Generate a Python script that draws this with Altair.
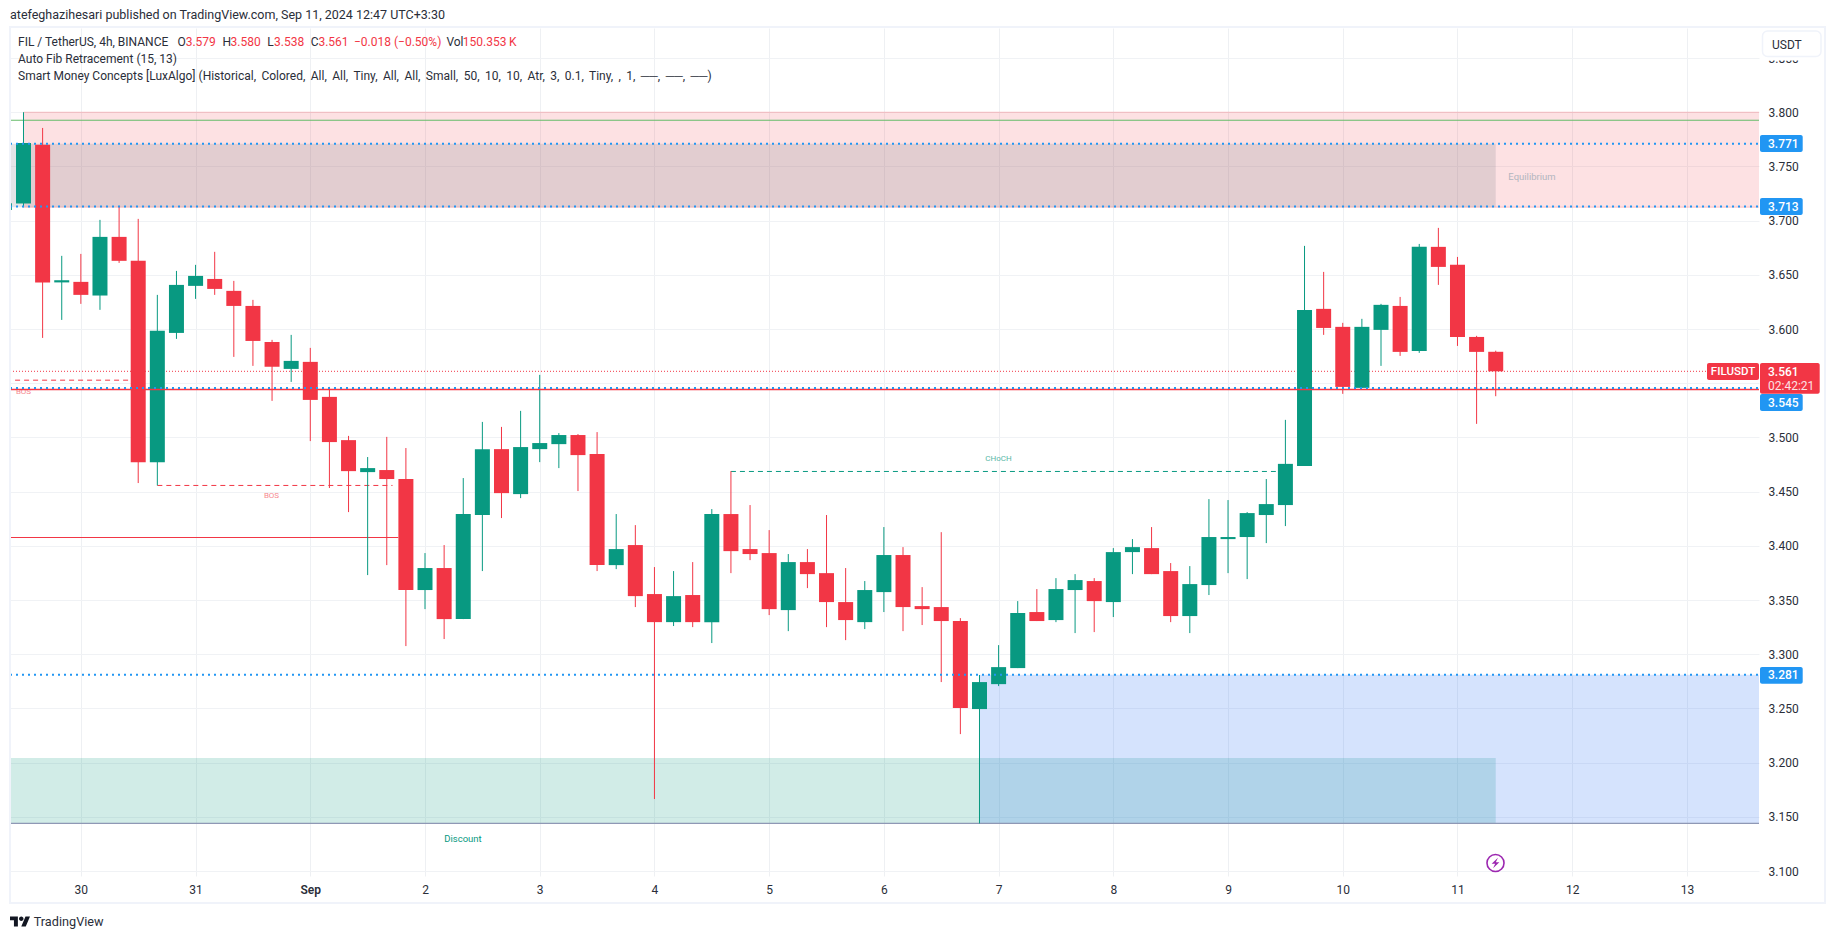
import altair as alt

GREEN = "#089981"
RED = "#F23645"
BLUE = "#2196F3"
FONT = "Roboto"
INK = "#2a2e39"

# ---- candles, 4h bars, index -1 is the one cut by the left edge
opens = [3.7099, 3.7157, 3.770, 3.643, 3.6435, 3.6309, 3.685, 3.6629, 3.4772, 3.5964, 3.6398, 3.6462,
         3.6352, 3.6213, 3.5881, 3.5632, 3.5697, 3.5374, 3.4975, 3.468, 3.4699, 3.4616, 3.3592, 3.3795,
         3.3324, 3.4284, 3.4892, 3.4477, 3.4892, 3.4938, 3.5022, 3.4846, 3.3822, 3.4007, 3.3555, 3.3296,
         3.3546, 3.3296, 3.4293, 3.397, 3.3933, 3.3407, 3.385, 3.3748, 3.3481, 3.3296, 3.3573, 3.3915,
         3.3444, 3.3435, 3.3306, 3.2494, 3.2724, 3.2872, 3.3389, 3.3315, 3.3592, 3.3675, 3.3481, 3.3942,
         3.3979, 3.3767, 3.3352, 3.3638, 3.4062, 3.4081, 3.4284, 3.4376, 3.4737, 3.6186, 3.602, 3.5457,
         3.5992, 3.6213, 3.5798, 3.6758, 3.6592, 3.5927, 3.579]
closes = [3.716, 3.7717, 3.6429, 3.645, 3.6315, 3.685, 3.6629, 3.4772, 3.5983, 3.6407, 3.649, 3.637,
          3.6213, 3.589, 3.5651, 3.5706, 3.5346, 3.4957, 3.4689, 3.4717, 3.4616, 3.3592, 3.3795, 3.3324,
          3.4293, 3.4892, 3.4486, 3.4911, 3.4948, 3.5022, 3.4837, 3.3822, 3.397, 3.3536, 3.3296, 3.3536,
          3.3296, 3.4293, 3.3951, 3.3924, 3.3416, 3.385, 3.3739, 3.3481, 3.3315, 3.3592, 3.3915, 3.3435,
          3.3416, 3.3306, 3.2503, 3.2743, 3.2881, 3.338, 3.3306, 3.3601, 3.3684, 3.349, 3.3942, 3.3988,
          3.3739, 3.3352, 3.3647, 3.4081, 3.4081, 3.4302, 3.4385, 3.4756, 3.6176, 3.601, 3.5466, 3.602,
          3.6223, 3.5789, 3.6758, 3.6573, 3.5927, 3.5789, 3.561]
highs = [3.716, 3.8, 3.7855, 3.6675, 3.6693, 3.7007, 3.7136, 3.7016, 3.6315, 3.6536, 3.6592, 3.6712,
         3.6444, 3.6269, 3.59, 3.5946, 3.5826, 3.5466, 3.5014, 3.4819, 3.5005, 3.4902, 3.3933, 3.4007,
         3.4625, 3.5143, 3.5097, 3.5245, 3.5577, 3.504, 3.5031, 3.5049, 3.4293, 3.4191, 3.3804, 3.3767,
         3.385, 3.4339, 3.4689, 3.4376, 3.4145, 3.3924, 3.397, 3.4284, 3.3795, 3.3675, 3.4173, 3.3988,
         3.3619, 3.4126, 3.3333, 3.2808, 3.3084, 3.349, 3.3601, 3.3702, 3.3739, 3.3702, 3.3979, 3.4062,
         3.4173, 3.3841, 3.3813, 3.4431, 3.4422, 3.4311, 3.4616, 3.5162, 3.6767, 3.6527, 3.6057, 3.6094,
         3.6232, 3.6296, 3.6785, 3.6933, 3.6665, 3.5937, 3.580]
lows = [3.7099, 3.7124, 3.5918, 3.6084, 3.6232, 3.6177, 3.661, 3.4579, 3.4557, 3.5909, 3.6278, 3.6315,
        3.5743, 3.566, 3.5337, 3.5512, 3.4966, 3.4533, 3.4311, 3.373, 3.3822, 3.3075, 3.3416, 3.314,
        3.3324, 3.3767, 3.4256, 3.444, 3.4772, 3.4717, 3.4505, 3.3767, 3.3785, 3.3435, 3.1664, 3.326,
        3.325, 3.3103, 3.3748, 3.3868, 3.3361, 3.3213, 3.361, 3.325, 3.313, 3.3232, 3.3389, 3.3213,
        3.3269, 3.2743, 3.2263, 3.1439, 3.2706, 3.2872, 3.3306, 3.3296, 3.3195, 3.3204, 3.3343, 3.3739,
        3.3739, 3.3296, 3.3195, 3.3546, 3.3748, 3.3693, 3.4025, 3.4182, 3.4737, 3.5946, 3.5402, 3.5457,
        3.566, 3.5752, 3.578, 3.6407, 3.5844, 3.5125, 3.538]

day_ticks = [3, 9, 15, 21, 27, 33, 39, 45, 51, 57, 63, 69, 75, 81, 87]
day_labels = ["30", "31", "Sep", "2", "3", "4", "5", "6", "7", "8", "9", "10", "11", "12", "13"]
price_ticks = [3.10, 3.15, 3.20, 3.25, 3.30, 3.35, 3.40, 3.45, 3.50, 3.55, 3.60, 3.65, 3.70, 3.75, 3.80, 3.85]

fib_levels = [3.771, 3.713, 3.545, 3.281]
last_price = 3.561
strong_high = 3.7926
zone_top, zone_bottom = 3.8, 3.7124
discount_top, discount_bottom = 3.2042, 3.1439

XMIN, XMAX = -0.706, 90.77
YMIN, YMAX = 3.0954, 3.8777
W, H = 1749, 848
OX, OY = 10, 28

xs = alt.Scale(domain=[XMIN, XMAX], nice=False, zero=False, padding=0)
ys = alt.Scale(domain=[YMIN, YMAX], nice=False, zero=False, padding=0)

candles = [
    {"i": k - 1, "o": o, "h": h, "l": l, "c": c, "d": "up" if c >= o else "down"}
    for k, (o, h, l, c) in enumerate(zip(opens, highs, lows, closes))
]
cdata = alt.Data(values=candles)
color = alt.Color("d:N", scale=alt.Scale(domain=["up", "down"], range=[GREEN, RED]), legend=None)
one = alt.Data(values=[{"a": 3.5}])


def X(f, **k):
    return alt.X(f, scale=xs, axis=None, title=None, **k)


def Y(f, **k):
    return alt.Y(f, scale=ys, axis=None, title=None, **k)


def zone(x0, x1, p0, p1, fill, op):
    return alt.Chart(alt.Data(values=[{"x0": x0, "x1": x1, "p0": p0, "p1": p1}])).mark_rect(
        fill=fill, opacity=op, clip=True
    ).encode(x=X("x0:Q"), x2="x1:Q", y=Y("p0:Q"), y2="p1:Q")


def hline(p, x0, x1, stroke, width=1.0, dash=None, op=1.0):
    kw = {"strokeDash": dash} if dash else {}
    return alt.Chart(alt.Data(values=[{"x0": x0, "x1": x1, "p": p}])).mark_rule(
        stroke=stroke, strokeWidth=width, opacity=op, clip=True, **kw
    ).encode(x=X("x0:Q"), x2="x1:Q", y=Y("p:Q"))


def label(txt, px, py, fill=INK, size=12, align="left", weight=400, op=1.0, font=FONT):
    return alt.Chart(one).mark_text(
        text=txt, fill=fill, fontSize=size, align=align, baseline="middle",
        fontWeight=weight, font=font, opacity=op
    ).encode(x=alt.value(px - OX), y=alt.value(py - OY))


def box(x0, x1, y0, y1, fill="#ffffff", stroke=None, sw=1, radius=2, fop=1):
    kw = {"stroke": stroke, "strokeWidth": sw} if stroke else {}
    return alt.Chart(one).mark_rect(fill=fill, fillOpacity=fop, cornerRadius=radius, **kw).encode(
        x=alt.value(x0 - OX), x2=alt.value(x1 - OX), y=alt.value(y0 - OY), y2=alt.value(y1 - OY)
    )


label_map = ",".join(f"'{t}':'{l}'" for t, l in zip(day_ticks, day_labels))
base = alt.Chart(one).mark_point(opacity=0).encode(
    x=alt.X("a:Q", scale=xs, title=None, axis=alt.Axis(
        values=day_ticks, labelExpr=f"({{{label_map}}})[datum.value]", grid=True, gridColor="#eef0f3",
        gridWidth=1, domain=False, ticks=False, labelPadding=8, labelFont=FONT, labelFontSize=12,
        labelColor=INK, labelFlush=False, labelOverlap=False, orient="bottom",
        labelFontWeight={"condition": {"test": "datum.value == 15", "value": 600}, "value": 400},
    )),
    y=alt.Y("a:Q", scale=ys, title=None, axis=alt.Axis(
        values=price_ticks,
        # the 3.550 label sits under the last-price badge in the reference, so it stays blank
        labelExpr="abs(datum.value - 3.55) < 0.001 ? '' : format(datum.value, '.3f')",
        grid=True, gridColor="#f0f2f5", gridWidth=1, domain=False,
        ticks=False, labelPadding=9, labelFont=FONT, labelFontSize=12, labelColor=INK, orient="right",
        labelFlush=False, labelOverlap=False,
    )),
)

layers = [base]

# zones
layers += [
    zone(0, XMAX, zone_top, zone_bottom, RED, 0.15),
    hline(zone_top, 0, XMAX, RED, 1, op=0.25),
    hline(zone_bottom, 0, XMAX, RED, 1, op=0.25),
    zone(XMIN, 77, fib_levels[0], zone_bottom, "#787b86", 0.2),
    zone(XMIN, 77, discount_top, discount_bottom, GREEN, 0.19),
    zone(50, XMAX, fib_levels[3], discount_bottom, "#2D73F5", 0.2),
    hline(discount_bottom, XMIN, XMAX, "#8f98b5", 1.3),
]

# structure lines
layers += [
    hline(strong_high, XMIN, XMAX, "#66bb6a", 1.2),
    hline(3.4077, XMIN, 19.6, RED, 1.1),
    hline(3.5528, -0.44, 6, RED, 1, [5, 4]),
    hline(3.4557, 7, 19.3, RED, 1, [5, 4]),
    hline(3.4686, 37, 65.5, GREEN, 1, [5, 4]),
    hline(last_price, XMIN, XMAX, RED, 1, [1, 2]),
]

# candles
layers += [
    alt.Chart(cdata).mark_rule(strokeWidth=1, clip=True).encode(
        x=X("i:Q"), y=Y("l:Q"), y2="h:Q", color=color),
    alt.Chart(cdata).mark_bar(size=15, clip=True).encode(
        x=X("i:Q"), y=Y("o:Q"), y2="c:Q", color=color),
]

# lines on top of candles
layers += [hline(p, XMIN, XMAX, BLUE, 2, [2, 4]) for p in fib_levels[:2]]
layers += [
    hline(3.5441, XMIN, XMAX, RED, 1.5),
    hline(fib_levels[2] + 0.0006, XMIN, XMAX, BLUE, 2, [2, 4]),
    hline(fib_levels[3], XMIN, XMAX, BLUE, 2, [2, 4]),
]

# chart texts
layers += [
    label("BOS", 23.5, 392, RED, 8, "center", op=0.6),
    label("BOS", 271.5, 496, RED, 8, "center", op=0.6),
    label("CHoCH", 998.5, 458.7, GREEN, 8, "center", op=0.7),
    label("Discount", 463, 838.7, GREEN, 9.5, "center"),
    label("Equilibrium", 1532, 176.7, "#b2b5be", 9.5, "center"),
]

# header
header = [
    ("FIL / TetherUS, 4h, BINANCE", 18, INK), ("O", 177.5, INK), ("3.579", 185.7, RED),
    ("H", 222.4, INK), ("3.580", 230.6, RED), ("L", 267.3, INK), ("3.538", 274, RED),
    ("C", 310.7, INK), ("3.561", 318.4, RED), ("\u22120.018 (\u22120.50%)", 354, RED),
    ("Vol", 446.4, INK), ("150.353\u2009K", 462.8, RED),
]
smc = ("Smart Money Concepts [LuxAlgo] (Historical,\u2009 Colored,\u2009 All,\u2009 All,\u2009 Tiny,\u2009 All,\u2009 All,\u2009 "
       "Small,\u2009 50,\u2009 10,\u2009 10,\u2009 Atr,\u2009 3,\u2009 0.1,\u2009 Tiny,\u2009 ,\u2009 1,\u2009 "
       "\u2500\u2500,\u2009 \u2500\u2500,\u2009 \u2500\u2500)")
layers += [label(t, x, 41.7, c) for t, x, c in header]
layers += [
    label("atefeghazihesari published on TradingView.com, Sep 11, 2024 12:47 UTC+3:30", 10, 15, INK, 12.5),
    label("Auto Fib Retracement (15, 13)", 18, 58.7),
    label(smc, 18, 76),
]

# price badges
badges = [("3.771", 135, 152), ("3.713", 198, 215), ("3.281", 667, 683.7)]
for t, y0, y1 in badges:
    layers += [box(1760, 1802.7, y0, y1, BLUE), label(t, 1768, (y0 + y1) / 2, "#ffffff", 12, weight=500)]
layers += [
    box(1707, 1759, 363, 380, RED),
    label("FILUSDT", 1733, 371.5, "#ffffff", 11.5, "center", 500),
    box(1760, 1819.7, 363, 393.7, RED),
    label("3.561", 1768, 371.7, "#ffffff", 12, weight=500),
    label("02:42:21", 1768, 385.7, "#ffffff", 12, op=0.85),
    box(1760, 1802.7, 394, 411, BLUE),
    label("3.545", 1768, 402.5, "#ffffff", 12, weight=500),
]

# frame + USDT button
layers += [
    alt.Chart(one).mark_rect(fillOpacity=0, stroke="#f0f3fa", strokeWidth=2).encode(
        x=alt.value(10 - OX), x2=alt.value(1825 - OX), y=alt.value(27 - OY), y2=alt.value(903 - OY)),
    box(1760, 1823, 29, 60.5, "#ffffff", radius=0),
    box(1762.5, 1821, 31, 56.5, "#ffffff", "#f0f3fa", 1.5, 5),
    label("USDT", 1772, 44.5, INK, 12),
]

# marker at the last bar
BOLT = "M0.35,-0.75 L-0.55,0.12 L-0.05,0.12 L-0.35,0.75 L0.55,-0.12 L0.05,-0.12 Z"
TVLOGO = ("M-0.211,0.507 L-0.606,0.507 L-0.606,-0.113 L-1,-0.113 L-1,-0.507 L-0.211,-0.507 Z "
          "M0.577,0.507 L0.127,0.507 L0.549,-0.507 L1,-0.507 Z "
          "M-0.098,-0.282 A0.225,0.225 0 1 0 0.352,-0.282 A0.225,0.225 0 1 0 -0.098,-0.282 Z")
layers += [
    alt.Chart(one).mark_point(shape="circle", filled=False, stroke="#9c27b0", strokeWidth=1.6, size=290, opacity=1).encode(
        x=alt.value(1495.5 - OX), y=alt.value(863 - OY)),
    alt.Chart(one).mark_point(shape=BOLT, filled=True, fill="#9c27b0", size=196, opacity=1, strokeWidth=0).encode(
        x=alt.value(1495.5 - OX), y=alt.value(863 - OY)),
    alt.Chart(one).mark_point(shape=TVLOGO, filled=True, fill="#131722", size=400, opacity=1, strokeWidth=0).encode(
        x=alt.value(20 - OX), y=alt.value(921.5 - OY)),
    label("TradingView", 33.7, 921.5, "#2a2e39", 12.7),
]

chart = alt.layer(*layers).resolve_scale(x="shared", y="shared").resolve_axis(x="independent", y="independent").properties(
    width=W, height=H, background="#ffffff",
    padding={"left": 2, "top": 20, "right": 68, "bottom": 55},
    autosize=alt.AutoSizeParams(type="none"),
).configure_view(stroke=None)

chart.save("out.html", embed_options={"renderer": "svg", "actions": False})
